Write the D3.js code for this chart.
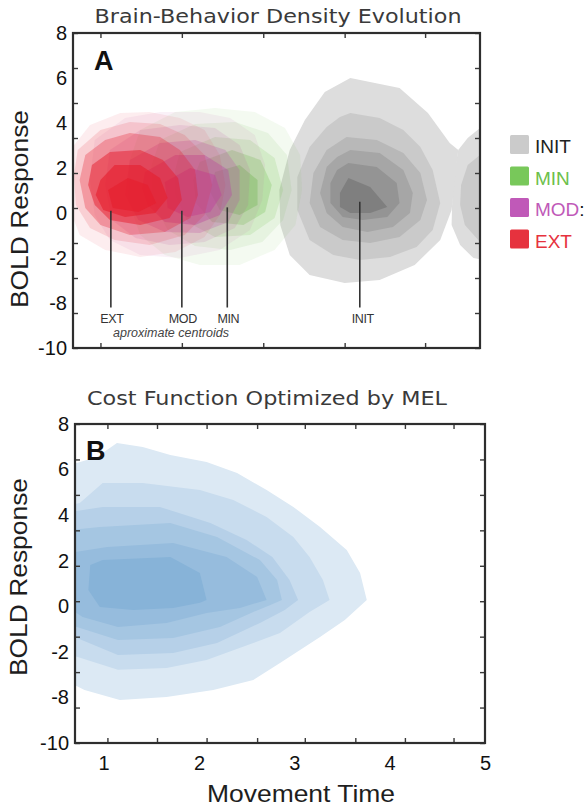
<!DOCTYPE html>
<html>
<head>
<meta charset="utf-8">
<script src="https://cdn.jsdelivr.net/npm/d3@7"></script>
<style>
  body { margin: 0; background: #fff; }
  svg { display: block; }
</style>
</head>
<body>
<div id="chart"></div>
<script>
// data (x = movement time, y = BOLD response)

const yLabelValues = [8, 6, 4, 2, 0, -2, -4, -6];
const yTickLabels = ["8", "6", "4", "2", "0", "-2", "-8", "-10"];
const yMinorTicks = [-10, -8, -6, -4, -2, 0, 2, 4, 6, 8];
const xTickLabels = [1, 2, 3, 4, 5];
const xMinorA = [0.99, 1.85, 2.71, 3.57, 4.42];
const xMinorB = [1.04, 1.56, 2.08, 2.61, 3.11, 3.64, 4.16, 4.67];

const legendNames = ["INIT", "MIN", "MOD", "EXT"];

const centroidNames = ["EXT", "MOD", "MIN", "INIT"];
const centroidX = [1.1, 1.85, 2.33, 3.73];
const centroidY = [0.1, 0.1, 0.25, 0.5];

// density contours, outer level first
const initLevels = [
  [[3.63,6.0],[4.15,5.56],[4.45,4.44],[4.68,3.11],[4.77,2.8],[4.74,1.69],[4.70,0.13],[4.58,-1.2],[4.31,-2.31],[3.94,-2.98],[3.57,-3.11],[3.20,-2.76],[2.99,-1.87],[2.89,-0.53],[2.88,1.02],[2.99,2.8],[3.15,4.13],[3.36,5.38]],
  [[3.63,4.44],[3.94,4.22],[4.19,3.69],[4.37,2.93],[4.50,1.91],[4.58,0.44],[4.50,-0.76],[4.33,-1.51],[4.05,-1.95],[3.73,-2.09],[3.45,-1.87],[3.20,-1.2],[3.07,0.13],[3.07,1.6],[3.20,2.93],[3.38,3.82],[3.52,4.27]],
  [[3.59,3.38],[3.91,3.24],[4.19,2.67],[4.37,1.78],[4.44,0.58],[4.37,-0.31],[4.15,-1.07],[3.84,-1.33],[3.55,-1.2],[3.31,-0.62],[3.20,0.44],[3.24,1.78],[3.38,2.8]],
  [[3.63,2.8],[3.94,2.67],[4.19,1.91],[4.29,0.89],[4.26,0.0],[4.08,-0.62],[3.81,-0.84],[3.55,-0.62],[3.38,0.0],[3.31,0.89],[3.38,2.04],[3.49,2.49]],
  [[3.61,2.22],[3.91,2.04],[4.12,1.33],[4.15,0.44],[4.02,-0.18],[3.76,-0.31],[3.55,-0.18],[3.42,0.44],[3.42,1.33],[3.49,1.91]],
  [[3.61,1.56],[3.84,1.16],[4.02,0.27],[3.84,0.0],[3.63,0.0],[3.52,0.27],[3.52,0.89]]
];

// second gray blob cut by the right edge
const sideLevels = [
  [[4.77,2.8],[4.87,3.33],[5.0,3.78],[5.16,3.91],[5.16,-2.18],[4.93,-2.0],[4.79,-1.42],[4.70,-0.53],[4.71,1.24]],
  [[5.0,2.58],[4.87,2.13],[4.80,1.24],[4.79,0.36],[4.84,-0.53],[5.0,-1.29],[5.16,-1.29],[5.16,2.58]]
];

const minLevels = [
  [[1.41,3.69],[1.78,4.49],[2.20,4.67],[2.62,4.49],[2.94,3.78],[3.10,2.58],[3.12,1.02],[3.05,-0.53],[2.83,-1.64],[2.46,-2.31],[2.04,-2.31],[1.67,-1.87],[1.41,-0.98],[1.28,0.58],[1.30,2.36]],
  [[1.62,3.24],[1.99,3.96],[2.41,4.04],[2.76,3.56],[2.96,2.58],[3.01,1.02],[2.92,-0.31],[2.70,-1.29],[2.36,-1.64],[1.99,-1.47],[1.70,-0.76],[1.53,0.58],[1.53,2.13]],
  [[1.83,2.71],[2.20,3.38],[2.57,3.24],[2.83,2.44],[2.92,1.02],[2.83,-0.22],[2.57,-0.98],[2.20,-1.07],[1.91,-0.40],[1.78,0.80],[1.78,1.91]],
  [[2.04,2.27],[2.38,2.80],[2.68,2.36],[2.80,1.24],[2.73,0.04],[2.50,-0.53],[2.17,-0.40],[2.00,0.44],[1.97,1.47]],
  [[2.20,1.82],[2.46,2.13],[2.65,1.47],[2.65,0.36],[2.46,-0.09],[2.25,0.13],[2.15,0.93]]
];

const modLevels = [
  [[0.93,3.24],[1.25,4.22],[1.62,4.49],[2.04,4.49],[2.36,4.22],[2.62,3.47],[2.73,2.13],[2.70,0.58],[2.57,-0.76],[2.25,-1.64],[1.83,-2.0],[1.41,-1.87],[1.09,-1.20],[0.93,-0.09],[0.88,1.47]],
  [[1.09,2.80],[1.41,3.69],[1.83,3.91],[2.20,3.78],[2.46,3.02],[2.57,1.91],[2.55,0.36],[2.41,-0.67],[2.09,-1.29],[1.72,-1.42],[1.36,-1.11],[1.11,-0.31],[1.04,1.24]],
  [[1.30,2.36],[1.62,3.11],[1.99,3.24],[2.31,2.80],[2.46,1.91],[2.46,0.58],[2.34,-0.40],[2.04,-0.89],[1.67,-0.84],[1.39,-0.31],[1.25,0.80]],
  [[1.46,1.82],[1.78,2.58],[2.09,2.58],[2.34,1.91],[2.38,0.80],[2.25,-0.09],[1.99,-0.53],[1.67,-0.40],[1.49,0.36],[1.43,1.11]],
  [[1.67,1.38],[1.94,2.0],[2.20,1.69],[2.27,0.80],[2.15,0.04],[1.91,-0.18],[1.70,0.22]]
];

const extLevels = [
  [[0.67,2.80],[0.88,3.91],[1.20,4.44],[1.51,4.49],[1.83,4.22],[2.09,3.69],[2.25,2.58],[2.31,1.24],[2.25,-0.09],[2.09,-1.07],[1.78,-1.73],[1.41,-1.95],[1.04,-1.64],[0.77,-0.98],[0.65,0.36],[0.63,1.69]],
  [[0.75,2.80],[0.99,3.69],[1.30,4.04],[1.62,3.96],[1.88,3.47],[2.09,2.58],[2.17,1.24],[2.09,-0.09],[1.88,-0.98],[1.51,-1.42],[1.14,-1.20],[0.88,-0.67],[0.73,0.36],[0.71,1.69]],
  [[0.83,2.58],[1.04,3.24],[1.30,3.56],[1.62,3.38],[1.83,2.80],[1.99,1.91],[2.02,0.80],[1.94,-0.22],[1.67,-0.84],[1.30,-0.98],[0.99,-0.53],[0.83,0.22],[0.77,1.47]],
  [[0.90,2.13],[1.09,2.71],[1.41,2.80],[1.65,2.36],[1.81,1.56],[1.85,0.58],[1.72,-0.22],[1.41,-0.53],[1.09,-0.31],[0.93,0.36],[0.86,1.24]],
  [[0.99,1.47],[1.14,2.13],[1.41,2.13],[1.62,1.56],[1.70,0.67],[1.57,0.0],[1.25,-0.18],[1.02,0.13],[0.94,0.80]],
  [[1.07,1.02],[1.28,1.56],[1.49,1.24],[1.58,0.44],[1.39,0.04],[1.12,0.22]]
];

const melLevels = [
  [[0.65,6.20],[0.93,6.55],[1.14,7.17],[1.41,6.99],[1.70,6.64],[2.08,6.33],[2.40,5.85],[2.71,5.10],[2.99,4.36],[3.27,3.48],[3.55,2.47],[3.69,1.46],[3.76,0.28],[3.53,-0.60],[3.27,-1.35],[2.85,-2.49],[2.57,-3.23],[2.15,-3.67],[1.66,-3.98],[1.17,-4.11],[0.80,-3.67],[0.65,-3.37]],
  [[0.65,4.45],[0.75,4.53],[0.99,5.41],[1.41,5.41],[2.01,5.10],[2.36,4.67],[2.71,3.92],[2.99,3.04],[3.16,2.16],[3.30,1.15],[3.37,0.28],[3.16,-0.25],[2.85,-1.17],[2.57,-1.61],[2.08,-2.36],[1.66,-2.71],[1.15,-2.79],[0.72,-2.22],[0.65,-2.14]],
  [[0.65,4.14],[0.99,4.36],[1.59,4.36],[2.12,3.66],[2.50,2.91],[2.77,2.16],[2.95,1.15],[3.04,0.28],[2.90,-0.16],[2.64,-0.73],[2.19,-1.61],[1.73,-2.05],[1.15,-2.14],[0.72,-1.39],[0.65,-1.30]],
  [[0.65,3.35],[0.96,3.48],[1.70,3.66],[2.19,3.04],[2.64,2.03],[2.82,1.15],[2.87,0.28],[2.75,0.06],[2.57,-0.25],[2.22,-0.91],[1.73,-1.39],[1.15,-1.48],[0.72,-0.91],[0.65,-0.82]],
  [[0.70,2.38],[1.04,2.60],[1.73,2.78],[2.29,2.16],[2.61,1.29],[2.71,0.28],[2.43,-0.07],[2.08,-0.29],[1.66,-0.73],[1.15,-0.91],[0.78,-0.47],[0.70,-0.25]],
  [[0.86,1.81],[0.99,2.03],[1.70,2.16],[2.01,1.46],[2.08,0.28],[2.01,0.15],[1.73,-0.07],[1.31,-0.16],[0.96,-0.03],[0.84,0.72]]
];

// styles

const grays = ["#dddddd", "#cacaca", "#b8b8b8", "#a6a6a6", "#949494", "#7f7f7f"];
const blues = ["#dce9f4", "#c8dcee", "#b6d0e8", "#a5c6e2", "#96bcdd", "#87b3d8"];
const legendColors = ["#cbcbcb", "#78c85a", "#c059b8", "#e6323e"];
const legendText = ["#222222", "#6cc04a", "#c059b8", "#e6323e"];
const sansFont = "'Liberation Sans', Arial, sans-serif";

const svg = d3.select("#chart").append("svg").attr("width", 586).attr("height", 808);

const panelA = { id: "clipA", left: 73, right: 480, top: 33, bottom: 348, xMinor: xMinorA };
const panelB = { id: "clipB", left: 75, right: 485, top: 424, bottom: 743, xMinor: xMinorB };

function setupPanel(p) {
  p.x = d3.scaleLinear([0.7, 5.0], [p.left, p.right]);
  p.y = d3.scaleLinear([-6, 8], [p.bottom, p.top]);
  // the printed tick marks follow a -10..8 grid that does not match the labels
  p.yTicks = d3.scaleLinear([-10, 8], [p.bottom, p.top]);
  p.g = svg.append("g");
  p.g.append("clipPath").attr("id", p.id).append("rect")
    .attr("x", p.left).attr("y", p.top)
    .attr("width", p.right - p.left).attr("height", p.bottom - p.top);
  p.plot = p.g.append("g").attr("clip-path", `url(#${p.id})`);
  p.area = d3.line()
    .x((d) => p.x(d[0]))
    .y((d) => p.y(d[1]))
    .curve(d3.curveLinearClosed);
}

function drawLevels(p, levels, fills, opacity) {
  p.plot.append("g")
    .selectAll("path")
    .data(levels)
    .join("path")
    .attr("d", p.area)
    .attr("fill", (d, i) => (Array.isArray(fills) ? fills[i] : fills))
    .attr("fill-opacity", (d, i) => (opacity ? opacity[i] : 1));
}

function drawAxes(p, withXLabels) {
  const t = 5;
  const ax = p.g.append("g").attr("color", "#3a3a3a");
  ax.append("g").attr("transform", `translate(${p.left},0)`)
    .call(d3.axisLeft(p.yTicks).tickValues(yMinorTicks).tickSize(-t).tickFormat(""));
  ax.append("g").attr("transform", `translate(${p.right},0)`)
    .call(d3.axisRight(p.yTicks).tickValues(yMinorTicks).tickSize(-t).tickFormat(""));
  ax.append("g").attr("transform", `translate(0,${p.top})`)
    .call(d3.axisTop(p.x).tickValues(p.xMinor).tickSize(-t).tickFormat(""));
  ax.append("g").attr("transform", `translate(0,${p.bottom})`)
    .call(d3.axisBottom(p.x).tickValues(p.xMinor).tickSize(-t).tickFormat(""));
  ax.selectAll(".domain").remove();
  ax.selectAll(".tick line").attr("stroke-width", 1.4);

  const yl = p.g.append("g")
    .attr("transform", `translate(${p.left},0)`)
    .call(d3.axisLeft(p.y).tickValues(yLabelValues).tickSize(0).tickPadding(6)
      .tickFormat((d, i) => yTickLabels[i]))
    .attr("font-size", 20)
    .attr("font-family", sansFont);
  yl.select(".domain").remove();
  yl.selectAll("text").attr("fill", "#111");

  if (withXLabels) {
    const xl = p.g.append("g")
      .attr("transform", `translate(0,${p.bottom})`)
      .call(d3.axisBottom(p.x).tickValues(xTickLabels).tickSize(0).tickPadding(13)
        .tickFormat(d3.format("d")))
      .attr("font-size", 20)
      .attr("font-family", sansFont);
    xl.select(".domain").remove();
    xl.selectAll("text").attr("fill", "#111");
  }

  p.g.append("rect")
    .attr("x", p.left).attr("y", p.top)
    .attr("width", p.right - p.left).attr("height", p.bottom - p.top)
    .attr("fill", "none").attr("stroke", "#2e2e2e").attr("stroke-width", 2.2);
}

function yTitle(cx, cy) {
  svg.append("text")
    .attr("transform", `translate(${cx},${cy}) rotate(-90)`)
    .attr("text-anchor", "middle")
    .attr("font-family", sansFont)
    .attr("font-size", 23)
    .attr("textLength", 198)
    .attr("lengthAdjust", "spacingAndGlyphs")
    .attr("fill", "#1e1e1e")
    .text("BOLD Response");
}

function title(cx, cy, txt, len) {
  svg.append("text")
    .attr("x", cx).attr("y", cy)
    .attr("text-anchor", "middle")
    .attr("font-family", "'DejaVu Sans', sans-serif")
    .attr("font-size", 20)
    .attr("textLength", len)
    .attr("lengthAdjust", "spacingAndGlyphs")
    .attr("fill", "#3a3a3a")
    .text(txt);
}

// panel A

setupPanel(panelA);
drawLevels(panelA, sideLevels, grays);
drawLevels(panelA, initLevels, grays);
drawLevels(panelA, minLevels, "#6dbf4b", [0.08, 0.1, 0.16, 0.26, 0.36]);
drawLevels(panelA, modLevels, "#b94aa6", [0.08, 0.13, 0.25, 0.4, 0.5]);
drawLevels(panelA, extLevels, "#e61e2d", [0.08, 0.14, 0.3, 0.5, 0.6, 0.6]);
drawAxes(panelA, false);

const lineBottom = -4.2;
const cent = panelA.g.append("g");
cent.selectAll("line")
  .data(centroidNames)
  .join("line")
  .attr("x1", (d, i) => panelA.x(centroidX[i]))
  .attr("x2", (d, i) => panelA.x(centroidX[i]))
  .attr("y1", (d, i) => panelA.y(centroidY[i]))
  .attr("y2", panelA.y(lineBottom))
  .attr("stroke", "#333")
  .attr("stroke-width", 1.6);
cent.selectAll("text")
  .data(centroidNames)
  .join("text")
  .attr("x", (d, i) => panelA.x(centroidX[i]) + (d == "INIT" ? 3 : 1))
  .attr("y", panelA.y(lineBottom) + 15)
  .attr("text-anchor", "middle")
  .attr("font-family", sansFont)
  .attr("font-size", 12.5)
  .attr("letter-spacing", -0.4)
  .attr("fill", "#333")
  .text((d) => d);
panelA.g.append("text")
  .attr("x", 171)
  .attr("y", panelA.y(lineBottom) + 29)
  .attr("text-anchor", "middle")
  .attr("font-family", sansFont)
  .attr("font-style", "italic")
  .attr("font-size", 12.5)
  .attr("fill", "#444")
  .text("aproximate centroids");

panelA.g.append("text")
  .attr("x", 94).attr("y", 70)
  .attr("font-family", sansFont).attr("font-weight", "bold").attr("font-size", 27)
  .attr("fill", "#111")
  .text("A");

title(278, 23, "Brain-Behavior Density Evolution", 367);
yTitle(28, 209);

// legend

const legend = svg.append("g").attr("transform", "translate(510,135)");
const legendItem = legend.selectAll("g")
  .data(legendNames)
  .join("g")
  .attr("transform", (d, i) => `translate(0,${i * 31.5})`);
legendItem.append("rect")
  .attr("width", 19).attr("height", 19).attr("rx", 1.5)
  .attr("fill", (d, i) => legendColors[i]);
const legendLabel = legendItem.append("text")
  .attr("x", 25).attr("y", 18)
  .attr("font-family", sansFont)
  .attr("font-size", 19)
  .attr("fill", (d, i) => legendText[i])
  .text((d) => d);
legendLabel.filter((d) => d == "MOD").append("tspan").attr("fill", "#111").text(":");

// panel B

setupPanel(panelB);
drawLevels(panelB, melLevels, blues);
drawAxes(panelB, true);

panelB.g.append("text")
  .attr("x", 86).attr("y", 460)
  .attr("font-family", sansFont).attr("font-weight", "bold").attr("font-size", 27)
  .attr("fill", "#111")
  .text("B");

title(267, 405, "Cost Function Optimized by MEL", 360);
yTitle(27, 577);

svg.append("text")
  .attr("x", 301).attr("y", 802)
  .attr("text-anchor", "middle")
  .attr("font-family", sansFont)
  .attr("font-size", 24)
  .attr("textLength", 188)
  .attr("lengthAdjust", "spacingAndGlyphs")
  .attr("fill", "#1e1e1e")
  .text("Movement Time");
</script>
</body>
</html>
